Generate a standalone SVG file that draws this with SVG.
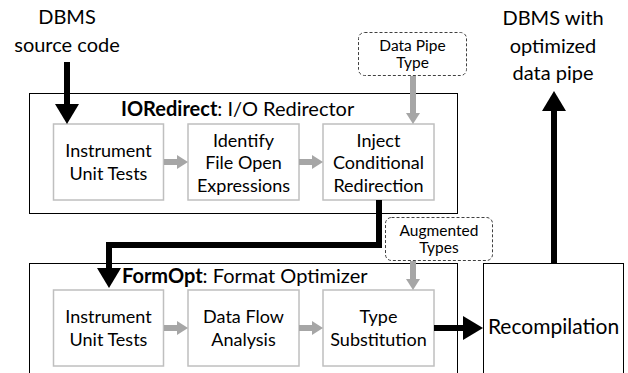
<svg xmlns="http://www.w3.org/2000/svg" width="628" height="373" viewBox="0 0 628 373">
<defs>
<style>
text{font-family:Lato,"Open Sans","Liberation Sans",sans-serif;fill:#000;text-anchor:middle}
.t{font-size:18px}
.s{font-size:15.5px}
.l{font-size:20px}
.h{font-size:20px;text-anchor:start}
.b{font-size:21px}
.outer{fill:#fff;stroke:#000;stroke-width:1}
.inner{fill:#fff;stroke:#bfbfbf;stroke-width:1.5}
.dash{fill:#fff;stroke:#404040;stroke-width:1;stroke-dasharray:3 2}
.blk{fill:none;stroke:#000;stroke-width:6}
.gry{fill:none;stroke:#a6a6a6;stroke-width:6}
</style>
<marker id="bh" markerUnits="userSpaceOnUse" viewBox="0 0 20 24" markerWidth="20" markerHeight="24" refX="0" refY="12" orient="auto"><path d="M0,0 L20,12 L0,24 Z" fill="#000"/></marker>
<marker id="gh" markerUnits="userSpaceOnUse" viewBox="0 0 11 14" markerWidth="11" markerHeight="14" refX="0" refY="7" orient="auto"><path d="M0,0 L11,7 L0,14 Z" fill="#a6a6a6"/></marker>
</defs>
<rect width="628" height="373" fill="#fff"/>
<g id="src"><text class="l" x="67" y="24">DBMS</text><text class="l" x="67" y="52">source code</text></g>
<g id="out"><text class="l" x="553" y="25">DBMS with</text><text class="l" x="553" y="53">optimized</text><text class="l" x="553" y="80">data pipe</text></g>
<g id="ioredirect"><rect class="outer" x="29.5" y="93.5" width="428" height="120"/>
<text class="h" x="121" y="116"><tspan font-weight="bold">IORedirect</tspan>: I/O Redirector</text></g>
<g id="io1"><rect class="inner" x="53.5" y="124" width="110" height="76"/><text class="t" x="108.5" y="157">Instrument</text><text class="t" x="108.5" y="180">Unit Tests</text></g>
<g id="io2"><rect class="inner" x="188" y="124" width="111" height="76"/><text class="t" x="243.5" y="147">Identify</text><text class="t" x="243.5" y="169">File Open</text><text class="t" x="243.5" y="192">Expressions</text></g>
<g id="io3"><rect class="inner" x="323" y="124" width="111" height="76"/><text class="t" x="378.5" y="147">Inject</text><text class="t" x="378.5" y="169">Conditional</text><text class="t" x="378.5" y="192">Redirection</text></g>
<g id="dpt"><rect class="dash" x="358.5" y="32.5" width="108" height="43" rx="6"/><text class="s" x="412.5" y="50.5">Data Pipe</text><text class="s" x="412.5" y="68">Type</text></g>
<g id="formopt"><rect class="outer" x="29.5" y="263.5" width="428" height="120"/>
<text class="h" x="122" y="283"><tspan font-weight="bold">FormOpt</tspan>: Format Optimizer</text></g>
<g id="fo1"><rect class="inner" x="53.5" y="290" width="110" height="76"/><text class="t" x="108.5" y="323">Instrument</text><text class="t" x="108.5" y="346">Unit Tests</text></g>
<g id="fo2"><rect class="inner" x="188" y="290" width="111" height="76"/><text class="t" x="243.5" y="323">Data Flow</text><text class="t" x="243.5" y="346">Analysis</text></g>
<g id="fo3"><rect class="inner" x="323" y="290" width="111" height="76"/><text class="t" x="378.5" y="323">Type</text><text class="t" x="378.5" y="346">Substitution</text></g>
<g id="aug"><rect class="dash" x="385.5" y="217.5" width="107" height="43" rx="6"/><text class="s" x="439" y="235.5">Augmented</text><text class="s" x="439" y="253">Types</text></g>
<g id="recomp"><rect class="outer" x="483.5" y="263.5" width="140" height="120"/><text class="b" x="553.5" y="334">Recompilation</text></g>
<g id="connectors">
<path class="blk" d="M67,62 V104" marker-end="url(#bh)"/>
<path class="blk" d="M554,263 V111" marker-end="url(#bh)"/>
<path class="blk" d="M379,200 V245 H109 V268" marker-end="url(#bh)"/>
<path class="blk" d="M434,328 H463" marker-end="url(#bh)"/>
<path class="gry" d="M164,162 H177" marker-end="url(#gh)"/>
<path class="gry" d="M299,162 H312" marker-end="url(#gh)"/>
<path class="gry" d="M164,328 H177" marker-end="url(#gh)"/>
<path class="gry" d="M299,328 H312" marker-end="url(#gh)"/>
<path class="gry" d="M413,76 V113" marker-end="url(#gh)"/>
<path class="gry" d="M413,261 V279" marker-end="url(#gh)"/>
</g>
</svg>
